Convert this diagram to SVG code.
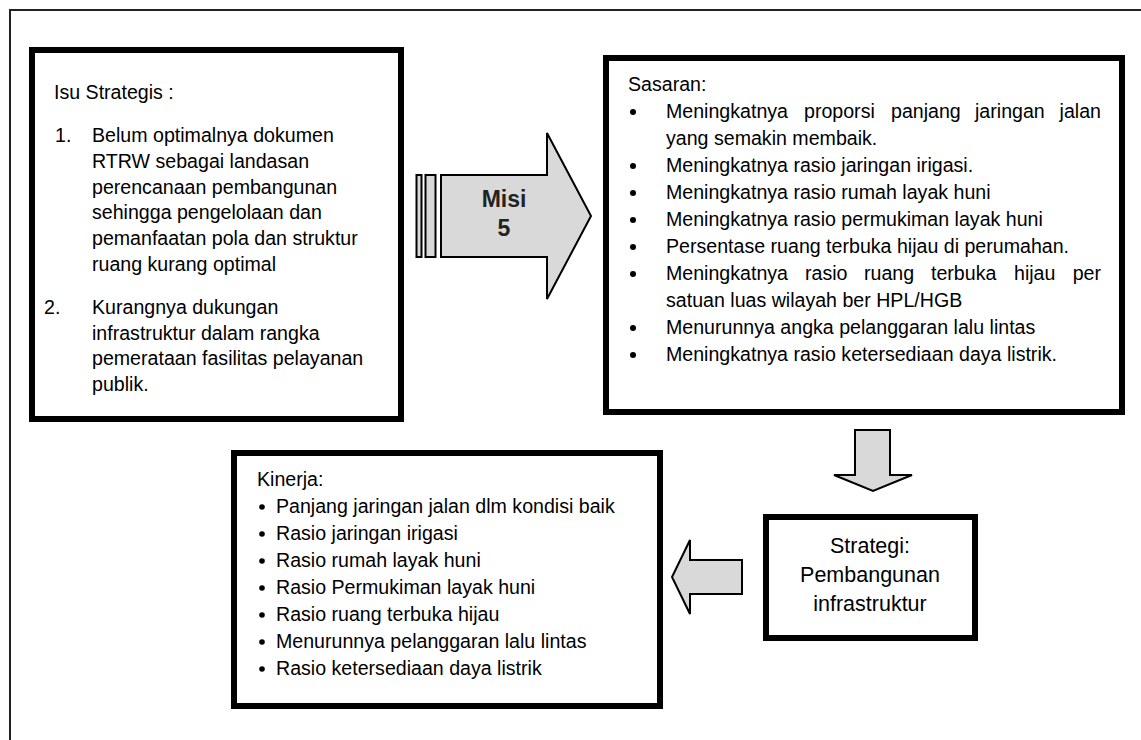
<svg xmlns="http://www.w3.org/2000/svg" width="1141" height="740" viewBox="0 0 1141 740">
<style>
  .box { fill: #ffffff; stroke: #000000; stroke-width: 6; }
  .arr { fill: #d9d9d9; stroke: #000000; stroke-width: 2; stroke-linejoin: miter; }
  .t { font-family: "Liberation Sans", Arial, sans-serif; font-size: 19.6px; fill: #000000; }
  .c { text-anchor: middle; }
  .misi { font-family: "Liberation Sans", Arial, sans-serif; font-size: 23px; font-weight: bold; fill: #222222; text-anchor: middle; }
  .st { font-family: "Liberation Sans", Arial, sans-serif; font-size: 21.5px; fill: #000000; text-anchor: middle; }
</style>
<rect x="0" y="0" width="1141" height="740" fill="#ffffff"/>
<rect id="frame" x="10" y="10" width="1145" height="745" fill="none" stroke="#222222" stroke-width="2"/>

<g id="connectors">
  <g id="misi-arrow">
    <rect class="arr" x="416.5" y="175" width="5" height="82"/>
    <rect class="arr" x="425.5" y="175" width="10" height="82"/>
    <polygon class="arr" points="441,175 547,175 547,133 591,216 547,299 547,257 441,257"/>
    <text class="misi" x="504" y="207">Misi</text>
    <text class="misi" x="504" y="236">5</text>
  </g>
  <polygon id="down-arrow" class="arr" points="855,430 890,430 890,475 912,475 873,491 834,475 855,475"/>
  <polygon id="left-arrow" class="arr" points="742,560 690,560 690,540 672,577 690,614 690,594 742,594"/>
</g>

<g id="isu">
  <rect class="box" x="32" y="50" width="369" height="369"/>
  <text class="t" x="54" y="99">Isu Strategis :</text>
  <text class="t" x="55" y="142">1.</text>
  <text class="t" x="92" y="142">Belum optimalnya dokumen</text>
  <text class="t" x="92" y="168">RTRW sebagai landasan</text>
  <text class="t" x="92" y="194">perencanaan pembangunan</text>
  <text class="t" x="92" y="219">sehingga pengelolaan dan</text>
  <text class="t" x="92" y="245">pemanfaatan pola dan struktur</text>
  <text class="t" x="92" y="271">ruang kurang optimal</text>
  <text class="t" x="44" y="314">2.</text>
  <text class="t" x="92" y="314">Kurangnya dukungan</text>
  <text class="t" x="92" y="340">infrastruktur dalam rangka</text>
  <text class="t" x="92" y="365">pemerataan fasilitas pelayanan</text>
  <text class="t" x="92" y="391">publik.</text>
</g>

<g id="sasaran">
  <rect class="box" x="606" y="58" width="516" height="354"/>
  <text class="t" x="628" y="91">Sasaran:</text>
  <g fill="#000000">
    <circle cx="633" cy="112" r="3"/>
    <circle cx="633" cy="166" r="3"/>
    <circle cx="633" cy="193" r="3"/>
    <circle cx="633" cy="220" r="3"/>
    <circle cx="633" cy="247" r="3"/>
    <circle cx="633" cy="274" r="3"/>
    <circle cx="633" cy="328" r="3"/>
    <circle cx="633" cy="355" r="3"/>
  </g>
  <text class="t" y="118"><tspan x="666">Meningkatnya</tspan><tspan x="804">proporsi</tspan><tspan x="891">panjang</tspan><tspan x="975">jaringan</tspan><tspan x="1101" text-anchor="end">jalan</tspan></text>
  <text class="t" x="666" y="145">yang semakin membaik.</text>
  <text class="t" x="666" y="172">Meningkatnya rasio jaringan irigasi.</text>
  <text class="t" x="666" y="199">Meningkatnya rasio rumah layak huni</text>
  <text class="t" x="666" y="226">Meningkatnya rasio permukiman layak huni</text>
  <text class="t" x="666" y="253">Persentase ruang terbuka hijau di perumahan.</text>
  <text class="t" y="280"><tspan x="666">Meningkatnya</tspan><tspan x="805">rasio</tspan><tspan x="864">ruang</tspan><tspan x="931">terbuka</tspan><tspan x="1014">hijau</tspan><tspan x="1101" text-anchor="end">per</tspan></text>
  <text class="t" x="666" y="307">satuan luas wilayah ber HPL/HGB</text>
  <text class="t" x="666" y="334">Menurunnya angka pelanggaran lalu lintas</text>
  <text class="t" x="666" y="361">Meningkatnya rasio ketersediaan daya listrik.</text>
</g>

<g id="strategi">
  <rect class="box" x="766" y="517" width="209" height="121"/>
  <text class="st" x="870" y="553">Strategi:</text>
  <text class="st" x="870" y="582">Pembangunan</text>
  <text class="st" x="870" y="611">infrastruktur</text>
</g>

<g id="kinerja">
  <rect class="box" x="234" y="453" width="426" height="253"/>
  <text class="t" x="257" y="486">Kinerja:</text>
  <g fill="#000000">
    <circle cx="262" cy="507" r="2.8"/>
    <circle cx="262" cy="534" r="2.8"/>
    <circle cx="262" cy="561" r="2.8"/>
    <circle cx="262" cy="588" r="2.8"/>
    <circle cx="262" cy="615" r="2.8"/>
    <circle cx="262" cy="642" r="2.8"/>
    <circle cx="262" cy="669" r="2.8"/>
  </g>
  <text class="t" x="276" y="513">Panjang jaringan jalan dlm kondisi baik</text>
  <text class="t" x="276" y="540">Rasio jaringan irigasi</text>
  <text class="t" x="276" y="567">Rasio rumah layak huni</text>
  <text class="t" x="276" y="594">Rasio Permukiman layak huni</text>
  <text class="t" x="276" y="621">Rasio ruang terbuka hijau</text>
  <text class="t" x="276" y="648">Menurunnya pelanggaran lalu lintas</text>
  <text class="t" x="276" y="675">Rasio ketersediaan daya listrik</text>
</g>
</svg>
